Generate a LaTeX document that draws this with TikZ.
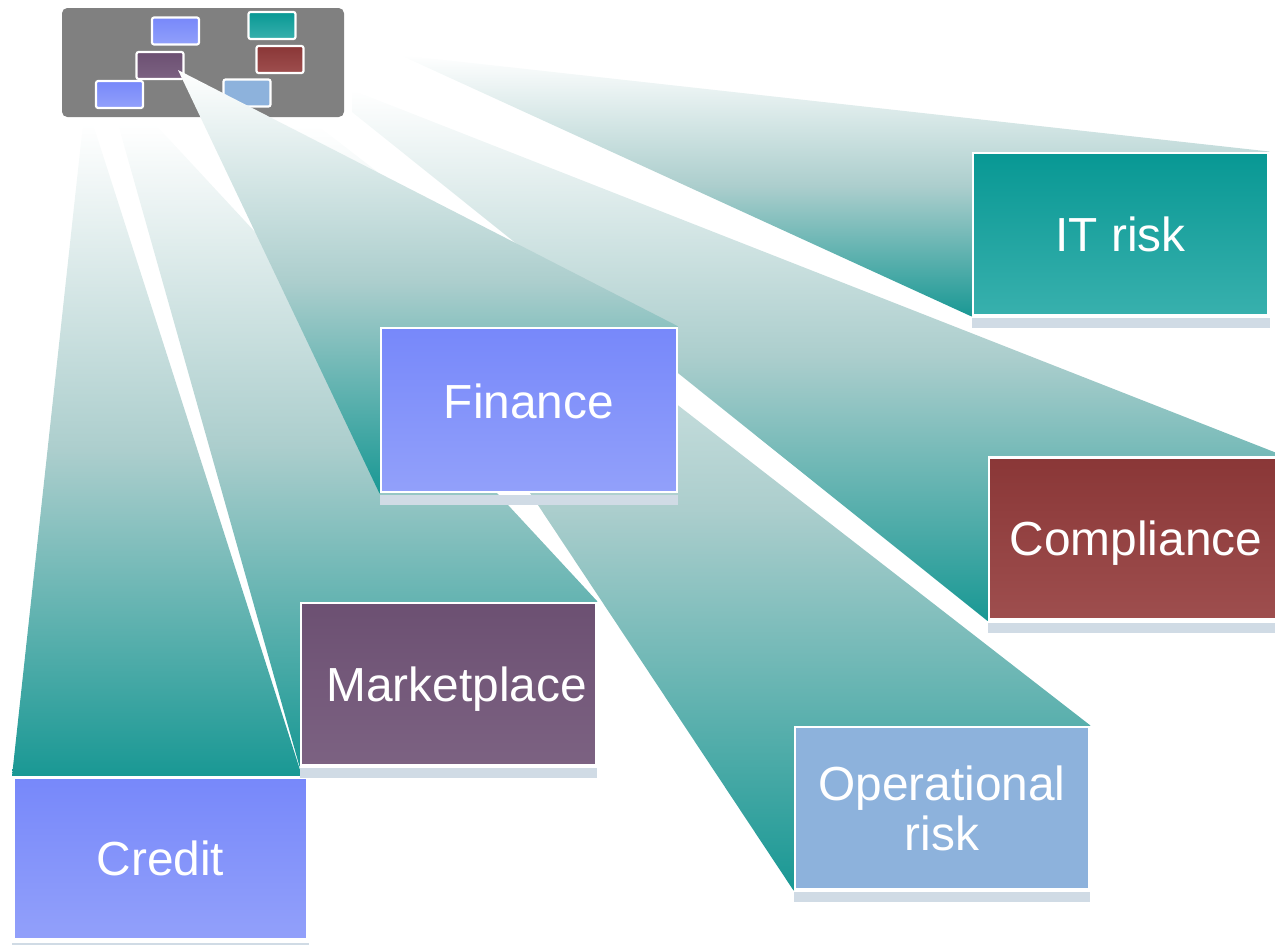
\documentclass[tikz,border=0pt]{standalone}
\usepackage{fontspec}
\setmainfont{Liberation Sans}
\usepackage{tikz}
\usetikzlibrary{calc, backgrounds}
\usepackage{xcolor}
\definecolor{beamteal}{RGB}{25,152,148}
\definecolor{beammid}{RGB}{172,206,205}
\definecolor{bluetop}{RGB}{119,136,250}
\definecolor{bluebot}{RGB}{146,160,250}
\definecolor{plumtop}{RGB}{108,80,114}
\definecolor{plumbot}{RGB}{124,98,130}
\definecolor{redtop}{RGB}{138,55,55}
\definecolor{redbot}{RGB}{158,78,78}
\definecolor{tealtop}{RGB}{8,152,148}
\definecolor{tealbot}{RGB}{56,176,173}
\definecolor{skyblue}{RGB}{141,178,220}
\definecolor{thumbgray}{RGB}{128,128,128}
\definecolor{dotgray}{RGB}{208,219,229}

\begin{document}
\begin{tikzpicture}[
    x=0.01cm, y=-0.01cm,
    area/.style 2 args={rectangle, draw=white, line width=0.8pt, top color=#1, bottom color=#2, text=white, align=center, font=\fontsize{13.6}{14.2}\selectfont, minimum width=2.94cm, minimum height=1.62cm, inner sep=0pt},
    mini/.style 2 args={rectangle, rounded corners=0.6pt, draw=white, line width=0.6pt, top color=#1, bottom color=#2, minimum width=0.47cm, minimum height=0.27cm, inner sep=0pt},
    beam/.style={top color=white, bottom color=beamteal, middle color=beammid},
    dotshadow/.style={fill=dotgray},
]
    \useasboundingbox (0,0) rectangle (1275,945);
    \clip (0,0) rectangle (1275,945);

    % Detail boxes
    \node[area={bluetop}{bluebot}] (credit) at (160.5,858.5) {Credit};
    \node[area={plumtop}{plumbot}, minimum width=2.95cm, text depth=0pt] (market) at (448.5,684) {\hspace*{0.16cm}Marketplace};
    \node[area={bluetop}{bluebot}, minimum width=2.96cm, minimum height=1.64cm, text depth=0.18cm] (finance) at (529,410) {Finance};
    \node[area={skyblue}{skyblue}] (oprisk) at (942,808) {Operational\\risk};
    \node[area={redtop}{redbot}, text depth=0pt] (compl) at (1136,538.5) {Compliance};
    \node[area={tealtop}{tealbot}, minimum width=2.95cm] (itrisk) at (1120.5,234) {IT risk};

    % Shadows
    \fill[dotshadow] ($(credit.south west)+(0,2)$) rectangle ($(credit.south east)+(0,12)$);
    \fill[dotshadow] ($(market.south west)+(0,2)$) rectangle ($(market.south east)+(0,12)$);
    \fill[dotshadow] ($(finance.south west)+(0,2)$) rectangle ($(finance.south east)+(0,12)$);
    \fill[dotshadow] ($(oprisk.south west)+(0,2)$) rectangle ($(oprisk.south east)+(0,12)$);
    \fill[dotshadow] ($(compl.south west)+(0,2)$) rectangle ($(compl.south east)+(0,12)$);
    \fill[dotshadow] ($(itrisk.south west)+(0,2)$) rectangle ($(itrisk.south east)+(0,12)$);

    \begin{scope}[on background layer]
        % Overview panel
        \fill[thumbgray, rounded corners=1.5pt] (62,8) rectangle (344,117);
        \node[mini={bluetop}{bluebot}] (sfinance) at (175.5,31) {};
        \node[mini={tealtop}{tealbot}] (sitrisk) at (272,25.5) {};
        \node[mini={redtop}{redbot}] (scompl) at (280,59.5) {};
        \node[mini={plumtop}{plumbot}] (smarket) at (160,65.5) {};
        \node[mini={bluetop}{bluebot}] (scredit) at (119.5,94.5) {};
        \node[mini={skyblue}{skyblue}] (soprisk) at (247,93) {};

        % Beam ends near the panel
        \coordinate (creditA) at (83,124);
        \coordinate (creditB) at (93,124);
        \coordinate (marketA) at (118,124);
        \coordinate (marketB) at (155,124);
        \coordinate (opriskA) at (286,125);
        \coordinate (opriskB) at (317,125);
        \coordinate (complA) at (352,90);
        \coordinate (complB) at (352,112);
        \coordinate (itriskA) at (400,55);
        \coordinate (financeA) at (178,70);

        % Beams
        \shade[beam] (creditA) -- (creditB) -- ($(credit.north east)+(-7,0)$) -- (credit.north west) -- cycle;
        \shade[beam] (marketA) -- (marketB) -- (market.north east) -- (market.south west) -- cycle;
        \shade[beam] (opriskA) -- (opriskB) -- (oprisk.north east) -- (oprisk.south west) -- cycle;
        \shade[beam] (complA) -- (compl.north east) -- (compl.south west) -- (complB) -- cycle;
        \shade[beam] (itriskA) -- (itrisk.north east) -- (itrisk.south west) -- cycle;
        \shade[beam] (financeA) -- (finance.north east) -- (finance.south west) -- cycle;
    \end{scope}

\end{tikzpicture}
\end{document}
